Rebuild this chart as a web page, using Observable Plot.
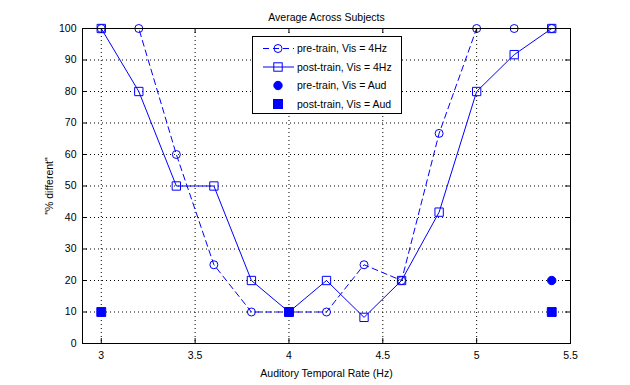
<!DOCTYPE html>
<html><head><meta charset="utf-8">
<script src="https://cdn.jsdelivr.net/npm/d3@7"></script>
<script src="https://cdn.jsdelivr.net/npm/@observablehq/plot@0.6"></script>
<style>body{margin:0;background:#fff} svg{display:block}</style>
</head><body><div id="chart"></div>
<script>
const title = "Average Across Subjects";
const xLabel = "Auditory Temporal Rate (Hz)";
const yLabel = "\"% different\"";
const rates = [3, 3.2, 3.4, 3.6, 3.8, 4, 4.2, 4.4, 4.6, 4.8, 5, 5.2, 5.4];
const preTrain4Hz = [100, 100, 60, 25, 10, 10, 10, 25, 20, 66.7, 100, 100, 100];
const postTrain4Hz = [100, 80, 50, 50, 20, 10, 20, 8.3, 20, 41.7, 80, 91.7, 100];
const preAudRates = [5.4];
const preTrainAud = [20];
const postAudRates = [3, 4, 5.4];
const postTrainAud = [10, 10, 10];
const xTicks = [3, 3.5, 4, 4.5, 5, 5.5];
const yTicks = [0, 10, 20, 30, 40, 50, 60, 70, 80, 90, 100];
const seriesNames = ["pre-train, Vis = 4Hz", "post-train, Vis = 4Hz", "pre-train, Vis = Aud", "post-train, Vis = Aud"];

const pre = rates.map((x, i) => ({x, y: preTrain4Hz[i]}));
const post = rates.map((x, i) => ({x, y: postTrain4Hz[i]}));
const preAud = preAudRates.map((x, i) => ({x, y: preTrainAud[i]}));
const postAud = postAudRates.map((x, i) => ({x, y: postTrainAud[i]}));

const W = 630, H = 385, mL = 82, mR = 60, mT = 28, mB = 42;
const pH = H - mT - mB, pW = W - mL - mR;
const blue = "#0000ff";
const dash = "6,4";
const font = "'Liberation Sans', Arial, sans-serif";
const fs = "10.5px";

const plot = Plot.plot({
  width: W, height: H,
  marginLeft: mL, marginRight: mR, marginTop: mT, marginBottom: mB,
  style: {fontFamily: font, fontSize: fs, background: "#fff", color: "#000"},
  x: {domain: [2.9, 5.5]},
  y: {domain: [0, 100]},
  marks: [
    Plot.ruleX(xTicks, {x: d => d, stroke: "#000", strokeWidth: 1, strokeDasharray: "1,3"}),
    Plot.ruleY(yTicks, {y: d => d, stroke: "#000", strokeWidth: 1, strokeDasharray: "1,3"}),
    Plot.line(pre, {x: "x", y: "y", stroke: blue, strokeWidth: 1, strokeDasharray: dash}),
    Plot.dot(pre, {x: "x", y: "y", stroke: blue, fill: "none", r: 4, strokeWidth: 1}),
    Plot.line(post, {x: "x", y: "y", stroke: blue, strokeWidth: 1}),
    Plot.dot(post, {x: "x", y: "y", symbol: "square", stroke: blue, fill: "none", r: 4.7, strokeWidth: 1}),
    Plot.dot(preAud, {x: "x", y: "y", fill: blue, stroke: blue, r: 4.2, strokeWidth: 1}),
    Plot.dot(postAud, {x: "x", y: "y", symbol: "square", fill: blue, stroke: blue, r: 5, strokeWidth: 1}),
    Plot.frame({stroke: "#000", strokeWidth: 1}),
    Plot.tickX(xTicks, {x: d => d, insetTop: pH - 5, stroke: "#000"}),
    Plot.tickX(xTicks, {x: d => d, insetBottom: pH - 5, stroke: "#000"}),
    Plot.tickY(yTicks, {y: d => d, insetRight: pW - 5, stroke: "#000"}),
    Plot.tickY(yTicks, {y: d => d, insetLeft: pW - 5, stroke: "#000"}),
    Plot.axisX({ticks: xTicks, tickSize: 0, tickPadding: 8, tickFormat: d => String(d),
      label: xLabel, labelAnchor: "center", labelOffset: 33, labelArrow: "none"}),
    Plot.axisY({ticks: yTicks, tickSize: 0, tickPadding: 6, tickFormat: d => String(d),
      label: yLabel, labelAnchor: "center", labelOffset: 37, labelArrow: "none"}),
    Plot.text([title], {text: d => d, frameAnchor: "top", dy: -15, fill: "#000"})
  ]
});

// Legend (MATLAB style box, drawn over the plot)
const svg = d3.select(plot);
const lg = svg.append("g").attr("font-family", font).attr("font-size", fs).attr("text-anchor", "start");
lg.append("rect").attr("x", 252.5).attr("y", 36.5).attr("width", 149).attr("height", 77)
  .attr("fill", "#fff").attr("stroke", "#000");
const rowY = [48.5, 67, 85.5, 104];
const mx = 278;
seriesNames.forEach((name, i) => {
  const y = rowY[i];
  if (i === 0) {
    lg.append("line").attr("x1", 263).attr("x2", 294).attr("y1", y).attr("y2", y)
      .attr("stroke", blue).attr("stroke-dasharray", dash);
    lg.append("circle").attr("cx", mx).attr("cy", y).attr("r", 4).attr("fill", "none").attr("stroke", blue);
  } else if (i === 1) {
    lg.append("line").attr("x1", 263).attr("x2", 294).attr("y1", y).attr("y2", y).attr("stroke", blue);
    lg.append("rect").attr("x", mx - 4.2).attr("y", y - 4.2).attr("width", 8.4).attr("height", 8.4)
      .attr("fill", "none").attr("stroke", blue);
  } else if (i === 2) {
    lg.append("circle").attr("cx", mx).attr("cy", y).attr("r", 4.2).attr("fill", blue).attr("stroke", blue);
  } else {
    lg.append("rect").attr("x", mx - 4.5).attr("y", y - 4.5).attr("width", 9).attr("height", 9)
      .attr("fill", blue).attr("stroke", blue);
  }
  lg.append("text").attr("x", 297).attr("y", y).attr("dy", "0.35em").attr("fill", "#000")
    .attr("text-anchor", "start").text(name);
});

document.getElementById("chart").appendChild(plot);
</script>
</body></html>
